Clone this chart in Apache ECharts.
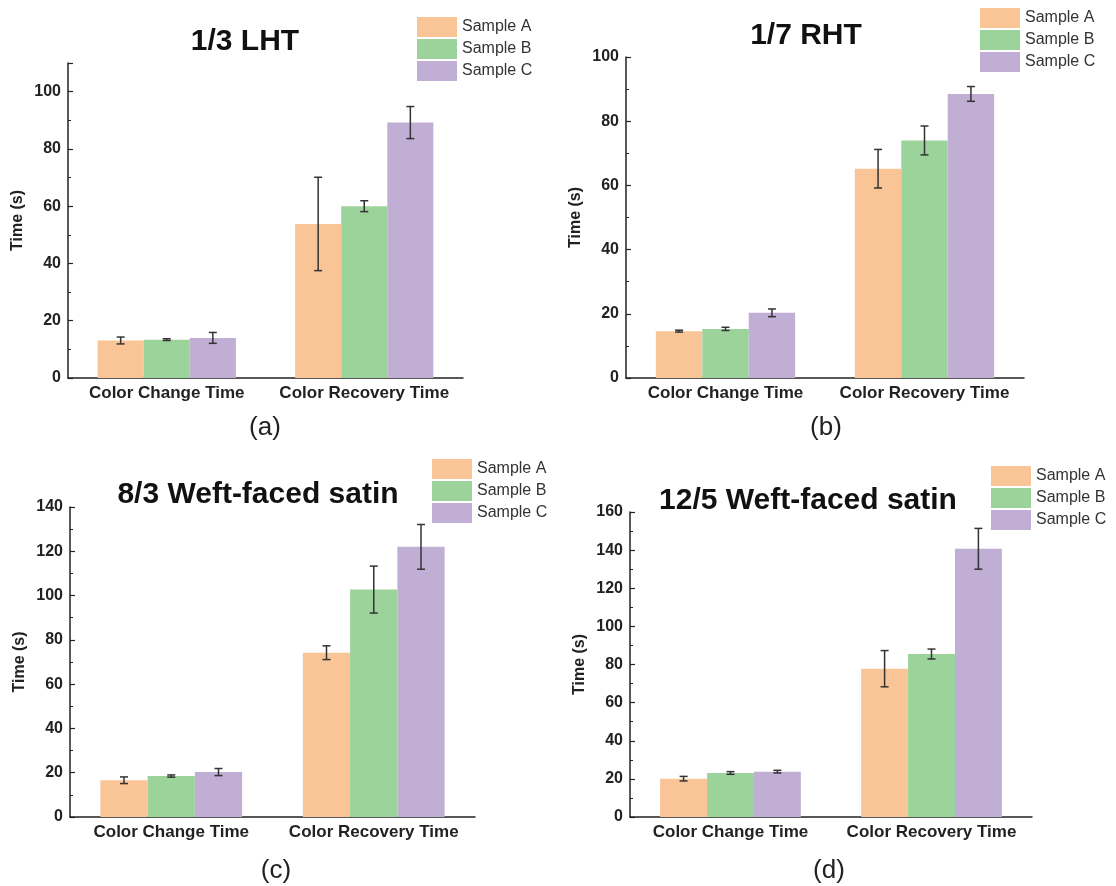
<!DOCTYPE html>
<html lang="en">
<head>
    <meta charset="UTF-8">
    <title>Color change / recovery time</title>
    <script type="text/javascript" src="https://cdn.jsdelivr.net/npm/echarts@6/dist/echarts.min.js"></script>
    <style>
        body { margin: 0; background: #fff; }
    </style>
</head>
<body>
<div id="main" style="width: 1116px;height:886px;"></div>
<script>
    // categories + legend names
    var categories = ['Color Change Time', 'Color Recovery Time'];
    var sampleNames = ['Sample A', 'Sample B', 'Sample C'];
    var colors = ['#f9c496', '#9bd39a', '#c0aed5'];

    // (a) 1/3 LHT : mean / error per sample, [change, recovery]
    var lhtMean = [[13.1, 53.8], [13.4, 60.0], [14.0, 89.2]];
    var lhtErr = [[1.2, 16.3], [0.3, 1.9], [1.9, 5.6]];
    // (b) 1/7 RHT
    var rhtMean = [[14.6, 65.2], [15.3, 74.0], [20.3, 88.5]];
    var rhtErr = [[0.3, 6.0], [0.5, 4.5], [1.2, 2.3]];
    // (c) 8/3 weft-faced satin
    var satin83Mean = [[16.6, 74.2], [18.5, 102.7], [20.3, 122.0]];
    var satin83Err = [[1.5, 3.1], [0.5, 10.6], [1.6, 10.1]];
    // (d) 12/5 weft-faced satin
    var satin125Mean = [[20.1, 77.8], [23.1, 85.5], [23.8, 140.7]];
    var satin125Err = [[1.2, 9.5], [0.7, 2.6], [0.7, 10.7]];

    // y axis ranges
    var yMax = [110, 100, 140, 160];
    var yInterval = [20, 20, 20, 20];

    var panels = [
        {title: '1/3 LHT', tag: '(a)', mean: lhtMean, err: lhtErr,
            grid: {left: 68, top: 63, width: 395, height: 315},
            titlePos: [245, 27], tagPos: [265, 415], legendPos: [417, 17]},
        {title: '1/7 RHT', tag: '(b)', mean: rhtMean, err: rhtErr,
            grid: {left: 626, top: 57, width: 398, height: 321},
            titlePos: [806, 21], tagPos: [826, 415], legendPos: [980, 8]},
        {title: '8/3 Weft-faced satin', tag: '(c)', mean: satin83Mean, err: satin83Err,
            grid: {left: 70, top: 507, width: 405, height: 310},
            titlePos: [258, 480], tagPos: [276, 858], legendPos: [432, 459]},
        {title: '12/5 Weft-faced satin', tag: '(d)', mean: satin125Mean, err: satin125Err,
            grid: {left: 630, top: 512, width: 402, height: 305},
            titlePos: [808, 486], tagPos: [829, 858], legendPos: [991, 466]}
    ];

    var FONT = '"Liberation Sans", Arial, sans-serif';
    var CAT_GAP = 0.3;

    var grids = [], xAxes = [], yAxes = [], titles = [], legends = [], series = [];

    function errRenderer(k) {
        return function (params, api) {
            var cat = api.value(0);
            var lo = api.coord([cat, api.value(1)]);
            var hi = api.coord([cat, api.value(2)]);
            var band = api.size([1, 0])[0];
            var barW = band * (1 - CAT_GAP) / 3;
            var x = lo[0] + (k - 1) * barW;
            var cap = 4;
            var st = {stroke: '#333', lineWidth: 1.5};
            return {
                type: 'group',
                children: [
                    {type: 'line', shape: {x1: x, y1: lo[1], x2: x, y2: hi[1]}, style: st},
                    {type: 'line', shape: {x1: x - cap, y1: hi[1], x2: x + cap, y2: hi[1]}, style: st},
                    {type: 'line', shape: {x1: x - cap, y1: lo[1], x2: x + cap, y2: lo[1]}, style: st}
                ]
            };
        };
    }

    panels.forEach(function (p, i) {
        grids.push(p.grid);
        xAxes.push({
            type: 'category',
            gridIndex: i,
            data: categories,
            axisLine: {lineStyle: {color: '#222', width: 1.5}},
            axisTick: {show: false},
            axisLabel: {
                interval: 0, hideOverlap: false,
                color: '#222', fontWeight: 'bold', fontSize: 17, fontFamily: FONT, margin: 7
            }
        });
        yAxes.push({
            type: 'value',
            gridIndex: i,
            min: 0,
            max: yMax[i],
            interval: yInterval[i],
            name: 'Time (s)',
            nameLocation: 'middle',
            nameGap: 42,
            nameTextStyle: {color: '#222', fontWeight: 'bold', fontSize: 16, fontFamily: FONT},
            axisLine: {show: true, lineStyle: {color: '#222', width: 1.5}},
            axisTick: {show: true, inside: true, length: 5, lineStyle: {color: '#222', width: 1.2}},
            minorTick: {show: true, splitNumber: 2, length: 3, lineStyle: {color: '#222', width: 1}},
            splitLine: {show: false},
            axisLabel: {
                color: '#222', fontWeight: 'bold', fontSize: 16, fontFamily: FONT, margin: 7,
                showMaxLabel: yMax[i] % yInterval[i] === 0
            }
        });
        titles.push({
            text: p.title, left: p.titlePos[0], top: p.titlePos[1], textAlign: 'center', padding: 0,
            textStyle: {color: '#111', fontWeight: 'bold', fontSize: 30, fontFamily: FONT}
        });
        titles.push({
            text: p.tag, left: p.tagPos[0], top: p.tagPos[1], textAlign: 'center', padding: 0,
            textStyle: {color: '#222', fontWeight: 'normal', fontSize: 26, fontFamily: FONT}
        });
        legends.push({
            data: sampleNames,
            orient: 'vertical',
            left: p.legendPos[0],
            top: p.legendPos[1],
            padding: 0,
            itemWidth: 40,
            itemHeight: 20,
            itemGap: 2,
            icon: 'rect',
            textStyle: {color: '#333', fontSize: 16, fontFamily: FONT}
        });

        for (var k = 0; k < 3; k++) {
            series.push({
                name: sampleNames[k],
                type: 'bar',
                xAxisIndex: i,
                yAxisIndex: i,
                barGap: '0%',
                barCategoryGap: '30%',
                itemStyle: {color: colors[k]},
                data: p.mean[k]
            });
        }
        for (var k2 = 0; k2 < 3; k2++) {
            var errData = p.mean[k2].map(function (m, c) {
                return [c, m - p.err[k2][c], m + p.err[k2][c]];
            });
            series.push({
                name: 'err ' + sampleNames[k2],
                type: 'custom',
                xAxisIndex: i,
                yAxisIndex: i,
                z: 5,
                renderItem: errRenderer(k2),
                encode: {x: 0, y: [1, 2]},
                data: errData
            });
        }
    });

    var option = {
        backgroundColor: '#fff',
        animation: false,
        title: titles,
        legend: legends,
        grid: grids,
        xAxis: xAxes,
        yAxis: yAxes,
        series: series
    };

    var myChart = echarts.init(document.getElementById('main'));
    myChart.setOption(option);
</script>
</body>
</html>
